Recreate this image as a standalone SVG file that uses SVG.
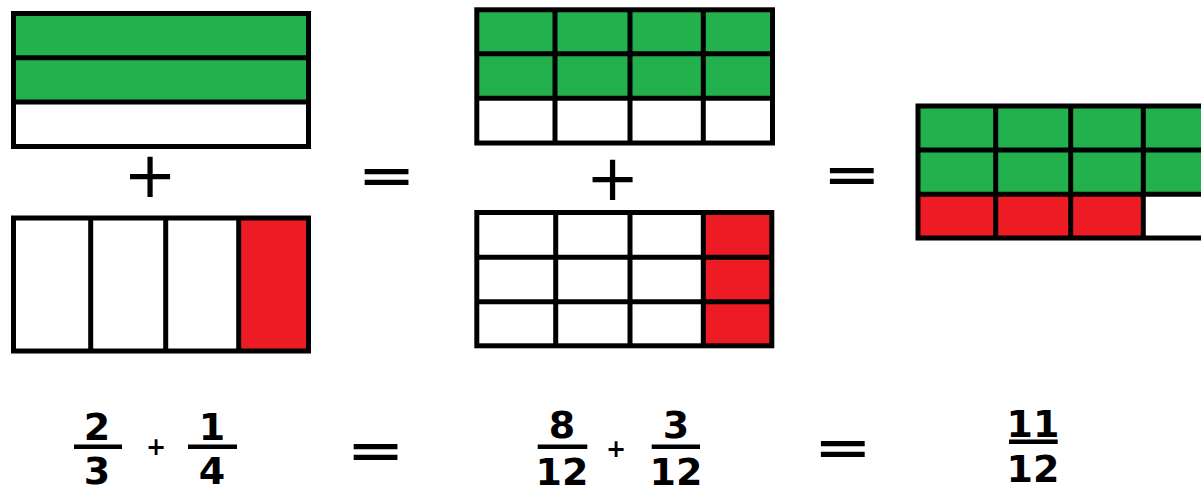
<svg xmlns="http://www.w3.org/2000/svg" width="1201" height="490" viewBox="0 0 1201 490">
<style>
.frame{fill:none;stroke:#000;stroke-width:5}
.ln{stroke:#000;stroke-width:5}
.g{fill:#22b14c}
.r{fill:#ed1c24}
.num{font-family:"DejaVu Sans",Verdana,sans-serif;font-weight:bold;font-size:38px;text-anchor:middle;fill:#000}
.op{font-family:"DejaVu Sans",sans-serif;text-anchor:middle;fill:#000}
.eq{font-family:"DejaVu Sans",sans-serif;font-weight:bold;font-size:70px;text-anchor:middle;fill:#000}
.bar{fill:#000}
</style>
<rect width="1201" height="490" fill="#fff"/>

<g id="twothirds">
<rect class="g" x="13.5" y="13.5" width="295" height="88.5"/>
<line class="ln" x1="13.5" y1="57.8" x2="308.5" y2="57.8"/>
<line class="ln" x1="13.5" y1="102" x2="308.5" y2="102"/>
<rect class="frame" x="13.5" y="13.5" width="295" height="133"/>
</g>

<g id="onequarter">
<rect class="r" x="238.7" y="218" width="69.8" height="133"/>
<line class="ln" x1="90.7" y1="218" x2="90.7" y2="351"/>
<line class="ln" x1="165.7" y1="218" x2="165.7" y2="351"/>
<line class="ln" x1="238.7" y1="218" x2="238.7" y2="351"/>
<rect class="frame" x="13.5" y="218" width="295" height="133"/>
</g>

<g id="eighttwelfths">
<rect class="g" x="476.8" y="9.8" width="295.7" height="88.5"/>
<line class="ln" x1="555" y1="9.8" x2="555" y2="143"/>
<line class="ln" x1="630" y1="9.8" x2="630" y2="143"/>
<line class="ln" x1="703.3" y1="9.8" x2="703.3" y2="143"/>
<line class="ln" x1="476.8" y1="53.8" x2="772.5" y2="53.8"/>
<line class="ln" x1="476.8" y1="98.3" x2="772.5" y2="98.3"/>
<rect class="frame" x="476.8" y="9.8" width="295.7" height="133.2"/>
</g>

<g id="threetwelfths">
<rect class="r" x="703.3" y="212.5" width="68.5" height="133.3"/>
<line class="ln" x1="555.7" y1="212.5" x2="555.7" y2="345.8"/>
<line class="ln" x1="630" y1="212.5" x2="630" y2="345.8"/>
<line class="ln" x1="703.3" y1="212.5" x2="703.3" y2="345.8"/>
<line class="ln" x1="476.8" y1="257.3" x2="771.8" y2="257.3"/>
<line class="ln" x1="476.8" y1="301.7" x2="771.8" y2="301.7"/>
<rect class="frame" x="476.8" y="212.5" width="295" height="133.3"/>
</g>

<g id="eleventwelfths">
<rect class="g" x="918" y="106" width="300" height="88.3"/>
<rect class="r" x="918" y="194.3" width="225.3" height="43.7"/>
<line class="ln" x1="995.7" y1="106" x2="995.7" y2="238"/>
<line class="ln" x1="1070.7" y1="106" x2="1070.7" y2="238"/>
<line class="ln" x1="1143.3" y1="106" x2="1143.3" y2="238"/>
<line class="ln" x1="918" y1="150" x2="1220" y2="150"/>
<line class="ln" x1="918" y1="194.3" x2="1220" y2="194.3"/>
<rect class="frame" x="918" y="106" width="300" height="132"/>
</g>

<g id="operators">
<text class="op" x="150" y="197" font-size="64">+</text>
<text class="op" x="612.5" y="199.5" font-size="64">+</text>
<text class="eq" transform="translate(386.5,177.8) scale(1,0.65)" x="0" y="22">=</text>
<text class="eq" transform="translate(851.8,176.2) scale(1,0.65)" x="0" y="22">=</text>
</g>

<g id="equation">
<text class="num" x="97" y="440">2</text>
<rect class="bar" x="74" y="444.5" width="48" height="4.5"/>
<text class="num" x="97" y="484">3</text>
<text class="op" x="156" y="455" font-size="24" font-weight="bold">+</text>
<text class="num" x="212" y="440">1</text>
<rect class="bar" x="188" y="444.5" width="49" height="4.5"/>
<text class="num" x="212" y="484">4</text>
<text class="eq" transform="translate(375.5,453) scale(1,0.65)" x="0" y="22">=</text>

<text class="num" x="562" y="438">8</text>
<rect class="bar" x="537.7" y="444.5" width="49.6" height="4.5"/>
<text class="num" x="562" y="485">12</text>
<text class="op" x="616" y="457" font-size="24" font-weight="bold">+</text>
<text class="num" x="676" y="438">3</text>
<rect class="bar" x="651.7" y="444.5" width="48.3" height="4.5"/>
<text class="num" x="676" y="485">12</text>
<text class="eq" transform="translate(842.8,449.3) scale(1,0.65)" x="0" y="22">=</text>

<text class="num" x="1033" y="437">11</text>
<rect class="bar" x="1009" y="439.5" width="48.7" height="4.5"/>
<text class="num" x="1033" y="482">12</text>
</g>
</svg>
